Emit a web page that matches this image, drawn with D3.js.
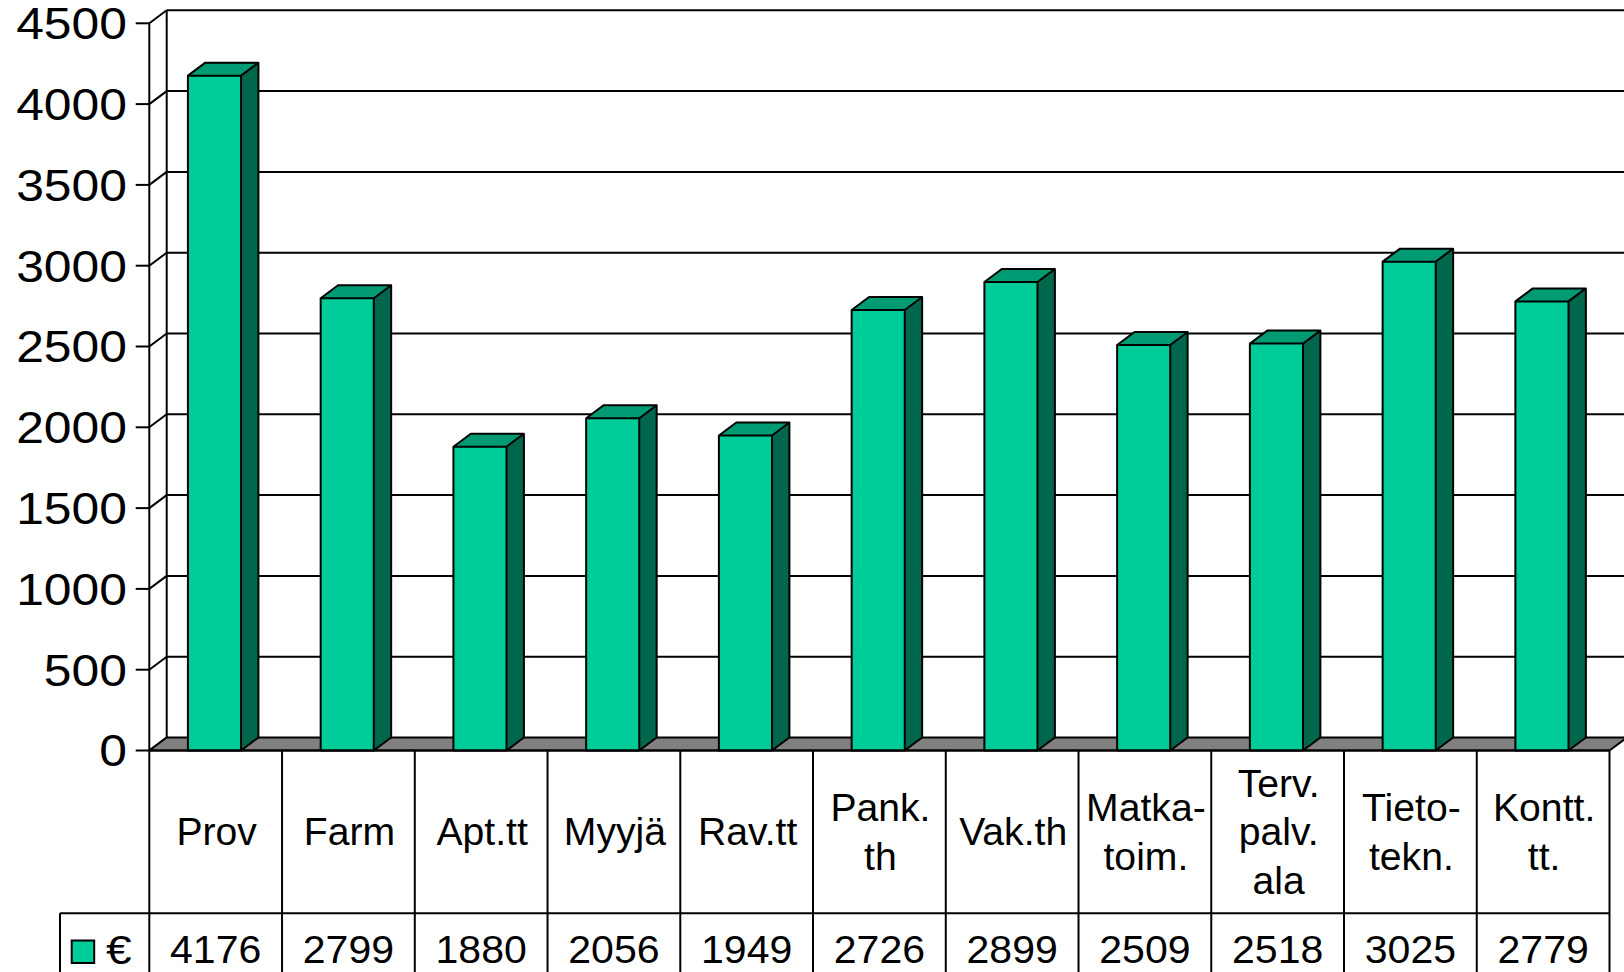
<!DOCTYPE html>
<html>
<head>
<meta charset="utf-8">
<script src="https://cdn.jsdelivr.net/npm/d3@7"></script>
<style>
  body { margin: 0; background: #fff; }
  svg { display: block; font-family: "Liberation Sans", Arial, sans-serif; }
</style>
</head>
<body>
<div id="chart"></div>
<script>
// category labels (lines as shown in the data table)
const categories = [
  ["Prov"], ["Farm"], ["Apt.tt"], ["Myyjä"], ["Rav.tt"], ["Pank.", "th"],
  ["Vak.th"], ["Matka-", "toim."], ["Terv.", "palv.", "ala"], ["Tieto-", "tekn."], ["Kontt.", "tt."]
];
const values = [4176, 2799, 1880, 2056, 1949, 2726, 2899, 2509, 2518, 3025, 2779];
const yTicks = [0, 500, 1000, 1500, 2000, 2500, 3000, 3500, 4000, 4500];
const seriesName = "€";

const width = 1624, height = 972;
const dx = 17.4, dy = 13; // 3D depth offset

const svg = d3.select("#chart").append("svg")
  .attr("width", width).attr("height", height)
  .attr("viewBox", [0, 0, width, height]);

const idx = d3.range(categories.length);
const x = d3.scaleBand().domain(idx).range([149.3, 1609.5]);
const y = d3.scaleLinear().domain([0, 4500]).range([750.5, 23.3]);

const x0 = x.range()[0], x1 = x.range()[1];
const yBase = y(0), yTop = y(4500);

const stroke = "#000";
const sw = 2;

// --- back wall grid lines ---
svg.append("g")
  .selectAll("line")
  .data(yTicks.filter((t) => t > 0))
  .join("line")
  .attr("x1", x0 + dx).attr("x2", width + 10)
  .attr("y1", (d) => y(d) - dy).attr("y2", (d) => y(d) - dy)
  .attr("stroke", stroke).attr("stroke-width", sw);

// left wall: diagonals at each tick
svg.append("g")
  .selectAll("line")
  .data(yTicks)
  .join("line")
  .attr("x1", x0).attr("y1", (d) => y(d))
  .attr("x2", x0 + dx).attr("y2", (d) => y(d) - dy)
  .attr("stroke", stroke).attr("stroke-width", sw);

// back vertical edge
svg.append("line")
  .attr("x1", x0 + dx).attr("x2", x0 + dx)
  .attr("y1", yTop - dy).attr("y2", yBase - dy)
  .attr("stroke", stroke).attr("stroke-width", sw);

// floor
svg.append("path")
  .attr("d", `M${x0},${yBase}L${x1},${yBase}L${x1 + dx},${yBase - dy}L${x0 + dx},${yBase - dy}Z`)
  .attr("fill", "#808080")
  .attr("stroke", stroke).attr("stroke-width", sw).attr("stroke-linejoin", "round");

// --- bars ---
const bw = x.bandwidth() * 0.4;
const bars = svg.append("g")
  .selectAll("g")
  .data(idx)
  .join("g");

bars.each(function (i) {
  const g = d3.select(this);
  const bx0 = x(i) + (x.bandwidth() - bw) / 2 - 1.2;
  const bx1 = bx0 + bw;
  const yt = y(values[i]);
  // side
  g.append("path")
    .attr("d", `M${bx1},${yt}L${bx1 + dx},${yt - dy}L${bx1 + dx},${yBase - dy}L${bx1},${yBase}Z`)
    .attr("fill", "#00664c");
  // top
  g.append("path")
    .attr("d", `M${bx0},${yt}L${bx1},${yt}L${bx1 + dx},${yt - dy}L${bx0 + dx},${yt - dy}Z`)
    .attr("fill", "#009b72");
  // front
  g.append("rect")
    .attr("x", bx0).attr("y", yt)
    .attr("width", bw).attr("height", yBase - yt)
    .attr("fill", "#00cc99");
  // outline
  g.append("path")
    .attr("d", `M${bx0},${yBase}L${bx0},${yt}L${bx0 + dx},${yt - dy}L${bx1 + dx},${yt - dy}L${bx1 + dx},${yBase - dy}L${bx1},${yBase}Z` +
      `M${bx0},${yt}L${bx1},${yt}L${bx1 + dx},${yt - dy}M${bx1},${yt}L${bx1},${yBase}`)
    .attr("fill", "none")
    .attr("stroke", stroke).attr("stroke-width", sw).attr("stroke-linejoin", "round");
});

// --- front value axis ---
svg.append("line")
  .attr("x1", x0).attr("x2", x0)
  .attr("y1", yTop).attr("y2", height)
  .attr("stroke", stroke).attr("stroke-width", sw);

const axis = svg.append("g");
axis.selectAll("line")
  .data(yTicks)
  .join("line")
  .attr("x1", 135.7).attr("x2", x0)
  .attr("y1", (d) => y(d)).attr("y2", (d) => y(d))
  .attr("stroke", stroke).attr("stroke-width", sw);
// reference text is a bit wider than Liberation Sans, so stretch it horizontally
axis.selectAll("text")
  .data(yTicks)
  .join("text")
  .attr("transform", (d) => `translate(127,${y(d) + 15.9}) scale(1.12,1)`)
  .attr("text-anchor", "end")
  .attr("font-size", 44.5)
  .text((d) => d);

// --- data table ---
const rowSplit = 913.3;
const tbl = svg.append("g");
tbl.append("line")
  .attr("x1", x0).attr("x2", x1).attr("y1", yBase).attr("y2", yBase)
  .attr("stroke", stroke).attr("stroke-width", sw);
tbl.append("line")
  .attr("x1", 60).attr("x2", x1).attr("y1", rowSplit).attr("y2", rowSplit)
  .attr("stroke", stroke).attr("stroke-width", sw);
tbl.append("line")
  .attr("x1", 60).attr("x2", 60).attr("y1", rowSplit).attr("y2", height)
  .attr("stroke", stroke).attr("stroke-width", sw);
tbl.selectAll("line.col")
  .data(idx.map((i) => i + 1))
  .join("line")
  .attr("class", "col")
  .attr("x1", (i) => (i < categories.length ? x(i) : x1))
  .attr("x2", (i) => (i < categories.length ? x(i) : x1))
  .attr("y1", yBase).attr("y2", height)
  .attr("stroke", stroke).attr("stroke-width", sw);

const fs = 38, capH = fs * 0.716, lh = 48.5;
const headCenter = (yBase + rowSplit) / 2;
tbl.selectAll("text.cat")
  .data(idx)
  .join("text")
  .attr("class", "cat")
  .attr("text-anchor", "middle")
  .attr("font-size", fs)
  .attr("transform", (i) => `translate(${x(i) + x.bandwidth() / 2 + 1},0) scale(1.03,1)`)
  .each(function (i) {
    const lines = categories[i];
    const first = headCenter + capH / 2 - (lines.length - 1) * lh / 2;
    d3.select(this).selectAll("tspan")
      .data(lines)
      .join("tspan")
      .attr("x", 0)
      .attr("y", (d, k) => first + k * lh)
      .text((d) => d);
  });

tbl.selectAll("text.val")
  .data(idx)
  .join("text")
  .attr("class", "val")
  .attr("text-anchor", "middle")
  .attr("font-size", fs)
  .attr("transform", (i) => `translate(${x(i) + x.bandwidth() / 2},963) scale(1.08,1)`)
  .text((i) => values[i]);

// legend key
tbl.append("rect")
  .attr("x", 71.7).attr("y", 940.5).attr("width", 22.5).attr("height", 22.5)
  .attr("fill", "#00cc99").attr("stroke", stroke).attr("stroke-width", sw);
tbl.append("text")
  .attr("transform", "translate(106,964) scale(1.15,1)")
  .attr("font-size", 40)
  .text(seriesName);
</script>
</body>
</html>
